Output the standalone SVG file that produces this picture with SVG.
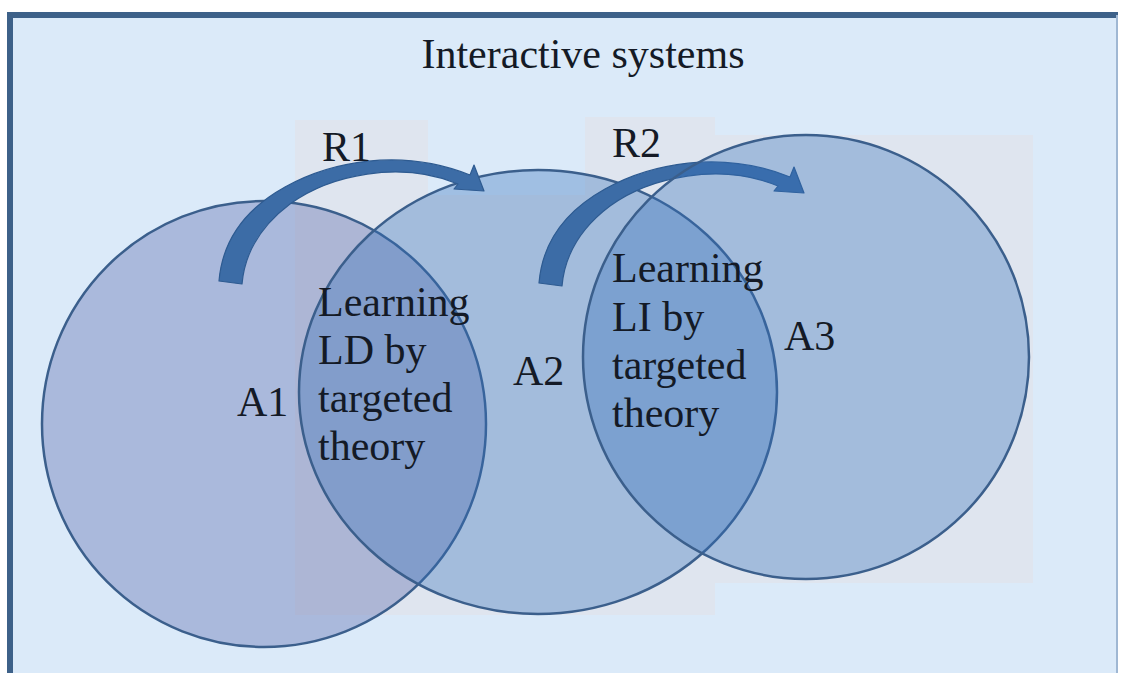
<svg xmlns="http://www.w3.org/2000/svg" width="1123" height="673" viewBox="0 0 1123 673">
  <defs>
    <style>
      .txt { font-family: "Liberation Serif", "Times New Roman", serif; fill: #141a26; }
      .title { font-size: 42px; }
      .lbl { font-size: 42px; }
      .set { stroke: #3b5f8c; stroke-width: 2.5; }
      .pane { fill: #dfe5ef; }
      .arrow { fill: #3c6ca6; stroke: #2e5b91; stroke-width: 1.2; stroke-linejoin: round; }
    </style>
    <!-- one curved block arrow, reused for both transitions -->
    <path id="curved-arrow" d="M219,281 C222,245 240,212 285,187 C330,162 400,147 470,175 L474,165 L484,191 L454,189 L458,184 C400,160 330,175 290,204 C262,225 245,250 242,284 Z"/>
  </defs>

  <!-- page -->
  <rect x="0" y="0" width="1123" height="673" fill="#ffffff"/>
  <rect x="10" y="15" width="1108" height="670" fill="#dbeaf9"/>
  <path id="frame" d="M10,690 V15 H1118" fill="none" stroke="#3d6189" stroke-width="6"/>
  <path d="M1117,15 V673" fill="none" stroke="#9fb7d3" stroke-width="2"/>

  <!-- faint text-box panes behind the sets -->
  <g id="panes">
    <rect class="pane" x="295" y="120" width="133" height="495"/>
    <rect class="pane" x="428" y="195" width="157" height="420"/>
    <rect class="pane" x="585" y="117" width="130" height="498"/>
    <rect class="pane" x="715" y="135" width="318" height="448"/>
  </g>

  <text class="txt title" x="583" y="68" text-anchor="middle">Interactive systems</text>

  <g id="A1">
    <ellipse class="set" cx="264" cy="424" rx="222" ry="223" fill="#4f5ea6" fill-opacity="0.35"/>
    <text class="txt lbl" x="237" y="416">A1</text>
  </g>

  <g id="A2">
    <ellipse class="set" cx="538" cy="392" rx="239" ry="222" fill="#3370bb" fill-opacity="0.35"/>
    <text class="txt lbl" x="513" y="385">A2</text>
  </g>

  <g id="connectors">
    <g id="R1">
      <use href="#curved-arrow" class="arrow"/>
      <text class="txt lbl" x="322" y="161">R1</text>
    </g>
    <g id="R2">
      <use href="#curved-arrow" class="arrow" transform="translate(320,2)"/>
      <text class="txt lbl" x="612" y="157">R2</text>
    </g>
  </g>

  <g id="A3">
    <ellipse class="set" cx="806" cy="357" rx="223" ry="222" fill="#3370bb" fill-opacity="0.35"/>
    <text class="txt lbl" x="784" y="350">A3</text>
  </g>

  <!-- overlap of A1 and A2 -->
  <g id="lens-LD">
    <text class="txt lbl" x="318">
      <tspan x="318" y="316">Learning</tspan>
      <tspan x="318" y="364">LD by</tspan>
      <tspan x="318" y="412">targeted</tspan>
      <tspan x="318" y="460">theory</tspan>
    </text>
  </g>

  <!-- overlap of A2 and A3 -->
  <g id="lens-LI">
    <text class="txt lbl" x="612">
      <tspan x="612" y="282">Learning</tspan>
      <tspan x="612" y="331">LI by</tspan>
      <tspan x="612" y="379">targeted</tspan>
      <tspan x="612" y="427">theory</tspan>
    </text>
  </g>
</svg>
